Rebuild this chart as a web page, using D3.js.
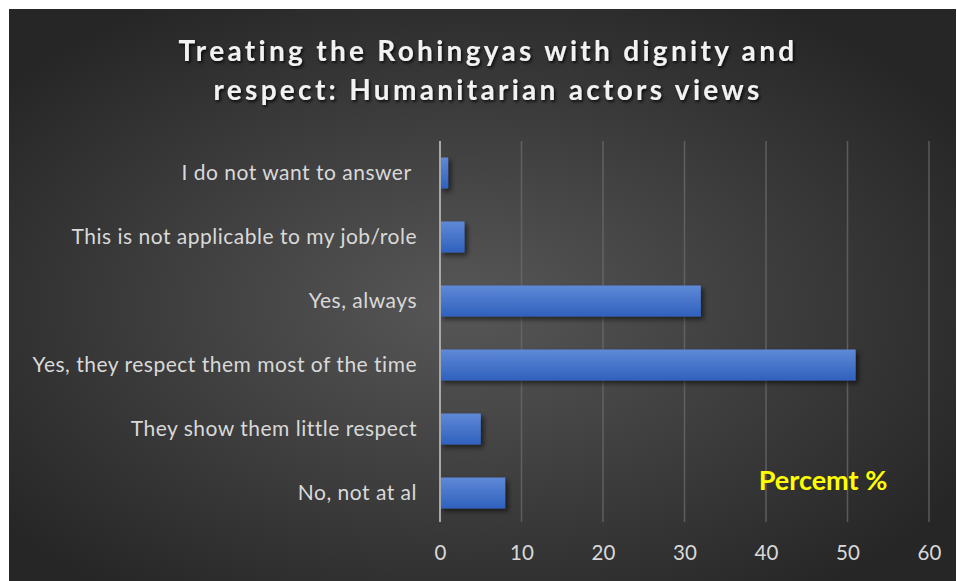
<!DOCTYPE html>
<html>
<head>
<meta charset="utf-8">
<script src="https://cdn.jsdelivr.net/npm/d3@7"></script>
<style>
  html, body { margin: 0; padding: 0; background: #ffffff; }
  svg { display: block; }
</style>
</head>
<body>
<svg id="chart" width="957" height="581"></svg>
<script>
// Survey answers, top to bottom as listed on the chart
const categories = [
  "I do not want to answer ",
  "This is not applicable to my job/role",
  "Yes, always",
  "Yes, they respect them most of the time",
  "They show them little respect",
  "No, not at al"
];
const percentValues = [1, 3, 32, 51, 5, 8];
const tickValues = [0, 10, 20, 30, 40, 50, 60];
const titleLines = [
  "Treating the Rohingyas with dignity and",
  "respect: Humanitarian actors views"
];
const axisNote = "Percemt %";

const W = 957, H = 581;
const svg = d3.select("#chart");
const defs = svg.append("defs");

// Dark radial backdrop
const bg = defs.append("radialGradient").attr("id", "bgGrad")
  .attr("cx", "48%").attr("cy", "52%").attr("r", "62%");
bg.append("stop").attr("offset", "0%").attr("stop-color", "#575757");
bg.append("stop").attr("offset", "100%").attr("stop-color", "#262626");

// Bar fill, lighter at the top edge
const barGrad = defs.append("linearGradient").attr("id", "barGrad")
  .attr("x1", 0).attr("y1", 0).attr("x2", 0).attr("y2", 1);
barGrad.append("stop").attr("offset", "0%").attr("stop-color", "#5f89d8");
barGrad.append("stop").attr("offset", "100%").attr("stop-color", "#2f61bd");

const barShadow = defs.append("filter").attr("id", "barShadow")
  .attr("x", "-10%").attr("y", "-30%").attr("width", "130%").attr("height", "170%");
barShadow.append("feDropShadow").attr("dx", 3).attr("dy", 3)
  .attr("stdDeviation", 2.5).attr("flood-color", "#000").attr("flood-opacity", 0.55);

const titleShadow = defs.append("filter").attr("id", "titleShadow")
  .attr("x", "-5%").attr("y", "-30%").attr("width", "110%").attr("height", "170%");
titleShadow.append("feDropShadow").attr("dx", 1.5).attr("dy", 2)
  .attr("stdDeviation", 1.5).attr("flood-color", "#000").attr("flood-opacity", 0.8);

svg.append("rect")
  .attr("x", 9).attr("y", 9).attr("width", W - 10).attr("height", H - 9)
  .attr("fill", "url(#bgGrad)");

// Scales
const x = d3.scaleLinear().domain([0, 60]).range([440, 929]);
const y = d3.scaleBand().domain(categories).range([141, 525])
  .paddingInner(0.516).paddingOuter(0.258);

// Vertical gridlines
svg.append("g").selectAll("line")
  .data(tickValues.filter(d => d > 0))
  .join("line")
  .attr("x1", d => x(d)).attr("x2", d => x(d))
  .attr("y1", 141).attr("y2", 522)
  .attr("stroke", "#6b6b6b").attr("stroke-opacity", 0.75).attr("stroke-width", 1.5);

// Bars
svg.append("g").attr("filter", "url(#barShadow)")
  .selectAll("rect")
  .data(categories)
  .join("rect")
  .attr("x", x(0))
  .attr("y", d => y(d))
  .attr("width", (d, i) => x(percentValues[i]) - x(0))
  .attr("height", y.bandwidth())
  .attr("fill", "url(#barGrad)");

// Category axis line
svg.append("line")
  .attr("x1", x(0)).attr("x2", x(0))
  .attr("y1", 141).attr("y2", 522)
  .attr("stroke", "#a8a8a8").attr("stroke-width", 2);

// Category labels
const yAxis = d3.axisLeft(y).tickSize(0).tickPadding(23);
const yg = svg.append("g").attr("transform", `translate(${x(0)},0)`).call(yAxis);
yg.select(".domain").remove();
yg.selectAll("text")
  .attr("fill", "#d9d9d9")
  .style("font-family", "Lato, 'Open Sans', sans-serif")
  .style("font-size", "21px")
  .style("letter-spacing", "0.5px")
  .style("white-space", "pre");

// Value axis labels
const xAxis = d3.axisBottom(x).tickValues(tickValues).tickSize(0).tickPadding(0);
const xg = svg.append("g").attr("transform", "translate(0,545)").call(xAxis);
xg.select(".domain").remove();
xg.selectAll("text")
  .attr("fill", "#d9d9d9")
  .style("font-family", "Lato, 'Open Sans', sans-serif")
  .style("font-size", "20.5px");

// Title
svg.append("g").attr("filter", "url(#titleShadow)")
  .selectAll("text")
  .data(titleLines)
  .join("text")
  .attr("x", 488)
  .attr("y", (d, i) => 61 + i * 39)
  .attr("text-anchor", "middle")
  .attr("fill", "#f2f2f2")
  .style("font-family", "Lato, 'Open Sans', sans-serif")
  .style("font-weight", "700")
  .style("font-size", "28px")
  .style("letter-spacing", "3.3px")
  .text(d => d);

// Axis note
svg.append("text")
  .attr("x", 823).attr("y", 490)
  .attr("text-anchor", "middle")
  .attr("fill", "#ffff00")
  .style("font-family", "Lato, 'Open Sans', sans-serif")
  .style("font-weight", "700")
  .style("font-size", "27px")
  .text(axisNote);
</script>
</body>
</html>
